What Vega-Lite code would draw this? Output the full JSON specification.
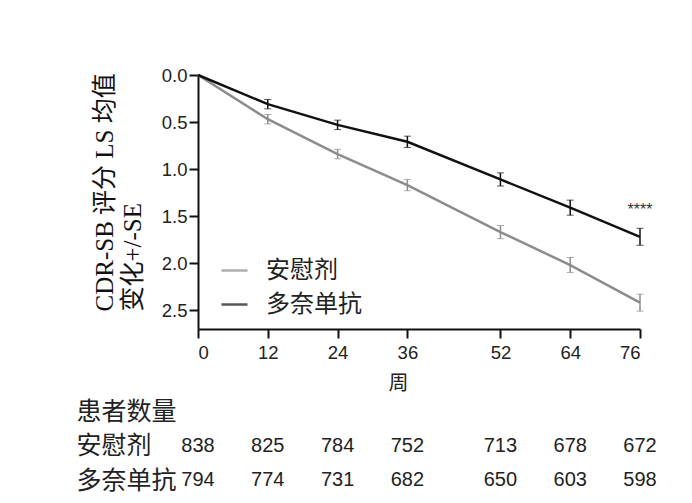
{
  "$schema": "https://vega.github.io/schema/vega-lite/v6.json",
  "autosize": {"type": "pad"},
  "padding": {"left": 76, "top": 66, "right": 10, "bottom": 5},
  "background": "white",
  "config": {
    "view": {"stroke": null},
    "font": "Liberation Sans",
    "axis": {
      "labelFont": "Liberation Sans",
      "labelFontSize": 18.5,
      "labelColor": "#222222",
      "domainColor": "#111111",
      "domainWidth": 2,
      "tickColor": "#111111",
      "tickWidth": 2,
      "grid": false
    }
  },
  "datasets": {
    "curve": [
      {"group": "安慰剂", "week": 0, "mean": 0.0, "se": 0.0},
      {"group": "安慰剂", "week": 12, "mean": 0.47, "se": 0.05},
      {"group": "安慰剂", "week": 24, "mean": 0.84, "se": 0.05},
      {"group": "安慰剂", "week": 36, "mean": 1.17, "se": 0.06},
      {"group": "安慰剂", "week": 52, "mean": 1.67, "se": 0.07},
      {"group": "安慰剂", "week": 64, "mean": 2.02, "se": 0.08},
      {"group": "安慰剂", "week": 76, "mean": 2.42, "se": 0.09},
      {"group": "多奈单抗", "week": 0, "mean": 0.0, "se": 0.0},
      {"group": "多奈单抗", "week": 12, "mean": 0.31, "se": 0.05},
      {"group": "多奈单抗", "week": 24, "mean": 0.53, "se": 0.05},
      {"group": "多奈单抗", "week": 36, "mean": 0.71, "se": 0.06},
      {"group": "多奈单抗", "week": 52, "mean": 1.11, "se": 0.07},
      {"group": "多奈单抗", "week": 64, "mean": 1.41, "se": 0.08},
      {"group": "多奈单抗", "week": 76, "mean": 1.72, "se": 0.09}
    ],
    "counts": [
      {"group": "安慰剂", "week": 0, "n": 838},
      {"group": "安慰剂", "week": 12, "n": 825},
      {"group": "安慰剂", "week": 24, "n": 784},
      {"group": "安慰剂", "week": 36, "n": 752},
      {"group": "安慰剂", "week": 52, "n": 713},
      {"group": "安慰剂", "week": 64, "n": 678},
      {"group": "安慰剂", "week": 76, "n": 672},
      {"group": "多奈单抗", "week": 0, "n": 794},
      {"group": "多奈单抗", "week": 12, "n": 774},
      {"group": "多奈单抗", "week": 24, "n": 731},
      {"group": "多奈单抗", "week": 36, "n": 682},
      {"group": "多奈单抗", "week": 52, "n": 650},
      {"group": "多奈单抗", "week": 64, "n": 603},
      {"group": "多奈单抗", "week": 76, "n": 598}
    ],
    "sig": [
      {"week": 76, "mean": 1.44, "label": "****"}
    ]
  },
  "vconcat": [
    {
      "width": 442,
      "height": 254,
      "encoding": {
        "x": {
          "field": "week",
          "type": "quantitative",
          "scale": {"domain": [0, 76], "nice": false},
          "axis": {
            "values": [0, 12, 24, 36, 52, 64, 76],
            "tickSize": 9,
            "labelPadding": 5,
            "titleFont": "Noto Sans CJK SC",
            "titleFontSize": 20,
            "titleFontWeight": "normal",
            "titleColor": "#222222",
            "titleX": 200,
            "titleY": 54,
            "titleBaseline": "middle"
          },
          "title": "周"
        },
        "y": {
          "field": "mean",
          "type": "quantitative",
          "scale": {"domain": [0, 2.7], "reverse": true, "nice": false},
          "axis": {
            "values": [0, 0.5, 1, 1.5, 2, 2.5],
            "format": ".1f",
            "tickSize": 9,
            "labelPadding": 2,
            "titleFont": "Liberation Serif, Noto Sans CJK SC",
            "titleFontSize": 25,
            "titleFontWeight": "normal",
            "titleColor": "#111111",
            "titleAngle": -90,
            "titleAlign": "left",
            "titleBaseline": "top",
            "titleLineHeight": 28,
            "titleX": -106,
            "titleY": 236
          },
          "title": ["CDR-SB 评分 LS 均值", "变化+/-SE"]
        }
      },
      "layer": [
        {
          "data": {"name": "curve"},
          "mark": {"type": "line", "strokeWidth": 2.5},
          "encoding": {
            "color": {
              "field": "group",
              "type": "nominal",
              "scale": {"domain": ["安慰剂", "多奈单抗"], "range": ["#8c8c8c", "#111111"]},
              "legend": {
                "orient": "none",
                "legendX": 22,
                "legendY": 181,
                "title": null,
                "padding": 0,
                "symbolType": "stroke",
                "symbolSize": 676,
                "symbolStrokeWidth": 2.5,
                "labelFont": "Noto Sans CJK SC",
                "labelFontSize": 24,
                "labelColor": "#222222",
                "labelOffset": 17,
                "rowPadding": 7
              }
            }
          }
        },
        {
          "data": {"name": "curve"},
          "transform": [{"filter": "datum.week > 0"}],
          "mark": {"type": "errorbar", "ticks": {"size": 7, "strokeWidth": 1.5}, "rule": {"strokeWidth": 1.5}},
          "encoding": {
            "yError": {"field": "se"},
            "color": {"field": "group", "type": "nominal"}
          }
        },
        {
          "data": {"name": "sig"},
          "mark": {"type": "text", "fontSize": 16, "color": "#333333", "align": "center", "baseline": "middle"},
          "encoding": {
            "text": {"field": "label"}
          }
        }
      ]
    },
    {
      "width": 442,
      "height": 103.5,
      "data": {"name": "counts"},
      "mark": {"type": "text", "fontSize": 20, "color": "#222222", "align": "center", "baseline": "middle"},
      "encoding": {
        "x": {
          "field": "week",
          "type": "quantitative",
          "scale": {"domain": [0, 76], "nice": false},
          "axis": null
        },
        "y": {
          "field": "group",
          "type": "nominal",
          "scale": {"domain": ["患者数量", "安慰剂", "多奈单抗"], "paddingInner": 0, "paddingOuter": 0},
          "axis": {
            "title": null,
            "domain": false,
            "ticks": false,
            "labelAlign": "left",
            "labelPadding": 122,
            "labelFont": "Noto Sans CJK SC",
            "labelFontSize": 25,
            "labelColor": "#222222"
          }
        },
        "text": {"field": "n", "type": "quantitative"}
      }
    }
  ],
  "resolve": {"scale": {"x": "independent"}},
  "spacing": 65,
  "bounds": "flush"
}
